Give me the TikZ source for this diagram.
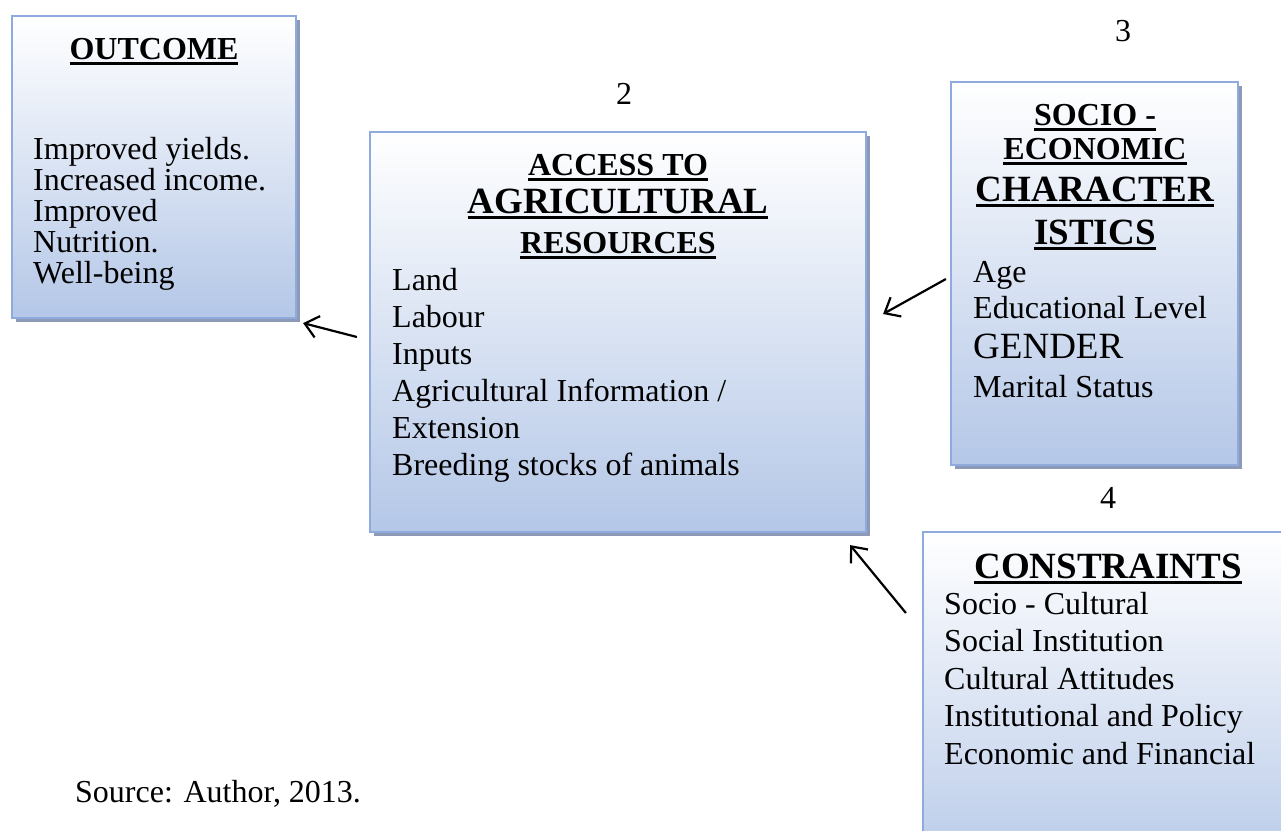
\documentclass[tikz,border=0pt]{standalone}
\usepackage{fontspec}
\setmainfont{Liberation Serif}
\usetikzlibrary{arrows.meta,shadows,calc}
\definecolor{boxborder}{RGB}{143,170,220}
\definecolor{boxfill}{RGB}{180,199,231}
\definecolor{boxshadow}{RGB}{140,154,184}
\newsavebox\ulsave
\newcommand\ulbox[1]{\sbox\ulsave{#1}\rlap{\rule[-6pt]{\wd\ulsave}{2.8pt}}\usebox\ulsave}
\tikzset{
  panel/.style={rectangle, draw=boxborder, line width=2.2pt, top color=white,
    bottom color=boxfill, inner sep=0pt,
    drop shadow={shadow xshift=4pt, shadow yshift=-4pt, fill=boxshadow, opacity=1}},
  titletext/.style={font=\fontsize{32}{37}\selectfont\bfseries, inner sep=0pt, anchor=base},
  bigtitle/.style={font=\fontsize{37}{42}\selectfont\bfseries, inner sep=0pt, anchor=base},
  bodytext/.style={font=\fontsize{32}{37}\selectfont, inner sep=0pt, anchor=base west},
  bigbody/.style={font=\fontsize{37}{42}\selectfont, inner sep=0pt, anchor=base west},
  numtext/.style={font=\fontsize{32}{37}\selectfont, inner sep=0pt, anchor=base},
  conn/.style={-{Straight Barb[length=13pt,width=22pt]}, line width=2.2pt, black}
}
\begin{document}
\begin{tikzpicture}[x=1pt,y=-1pt]
\clip (0,0) rectangle (1281,830);
\fill[white] (0,0) rectangle (1281,830);

% boxes
\node[panel, minimum width=284pt, minimum height=302pt] (outcome) at (154,167) {};
\node[panel, minimum width=496pt, minimum height=400pt] (access) at (618,332) {};
\node[panel, minimum width=287pt, minimum height=383pt] (socio) at (1094.5,273.5) {};
\node[panel, minimum width=370pt, minimum height=360pt] (constr) at (1108,712) {};

% outcome
\node[titletext] (outT) at (154,59) {\ulbox{OUTCOME}};
\foreach \t [count=\i] in {Improved yields., Increased income., Improved, Nutrition., Well-being}
  \node[bodytext] (outL\i) at (33,{159+31*(\i-1)}) {\t};

% access
\node[titletext] (accT1) at (618,175) {\ulbox{ACCESS TO}};
\node[bigtitle] (accT2) at (618,213) {\ulbox{AGRICULTURAL}};
\node[titletext] (accT3) at (618,253) {\ulbox{RESOURCES}};
\foreach \t [count=\i] in {Land, Labour, Inputs, Agricultural Information /, Extension, Breeding stocks of animals}
  \node[bodytext] (accL\i) at (392,{290+37*(\i-1)}) {\t};

% socio-economic
\node[titletext] (socT1) at (1095,125) {\ulbox{SOCIO -}};
\node[titletext] (socT2) at (1095,159) {\ulbox{ECONOMIC}};
\node[bigtitle] (socT3) at (1095,201) {\ulbox{CHARACTER}};
\node[bigtitle] (socT4) at (1095,244) {\ulbox{ISTICS}};
\node[bodytext] (socL1) at (973,282) {Age};
\node[bodytext] (socL2) at (973,318) {Educational Level};
\node[bigbody] (socL3) at (973,358) {GENDER};
\node[bodytext] (socL4) at (973,397) {Marital Status};

% constraints
\node[bigtitle] (conT) at (1108,578) {\ulbox{CONSTRAINTS}};
\foreach \t [count=\i] in {Socio - Cultural, Social Institution, Cultural Attitudes, Institutional and Policy, Economic and Financial}
  \node[bodytext] (conL\i) at (944,{614+37.5*(\i-1)}) {\t};

% numbers
\node[numtext] (n2) at (624,104) {2};
\node[numtext] (n3) at (1123,41) {3};
\node[numtext] (n4) at (1108,508) {4};

% source
\node[bodytext] (src) at (75,802) {Source: Author, 2013.};

% arrows
\coordinate (a1s) at ($(access.west)+(-12,5)$);
\coordinate (a1e) at ($(outcome.south east)+(6,4)$);
\coordinate (a2s) at ($(socio.west)+(-4,5.5)$);
\coordinate (a2e) at ($(access.east)+(16,-18)$);
\coordinate (a3s) at ($(constr.west)+(-16,-99)$);
\coordinate (a3e) at ($(access.south east)+(-17,12)$);
\draw[conn] (a1s) -- (a1e);
\draw[conn] (a2s) -- (a2e);
\draw[conn] (a3s) -- (a3e);
\end{tikzpicture}
\end{document}
